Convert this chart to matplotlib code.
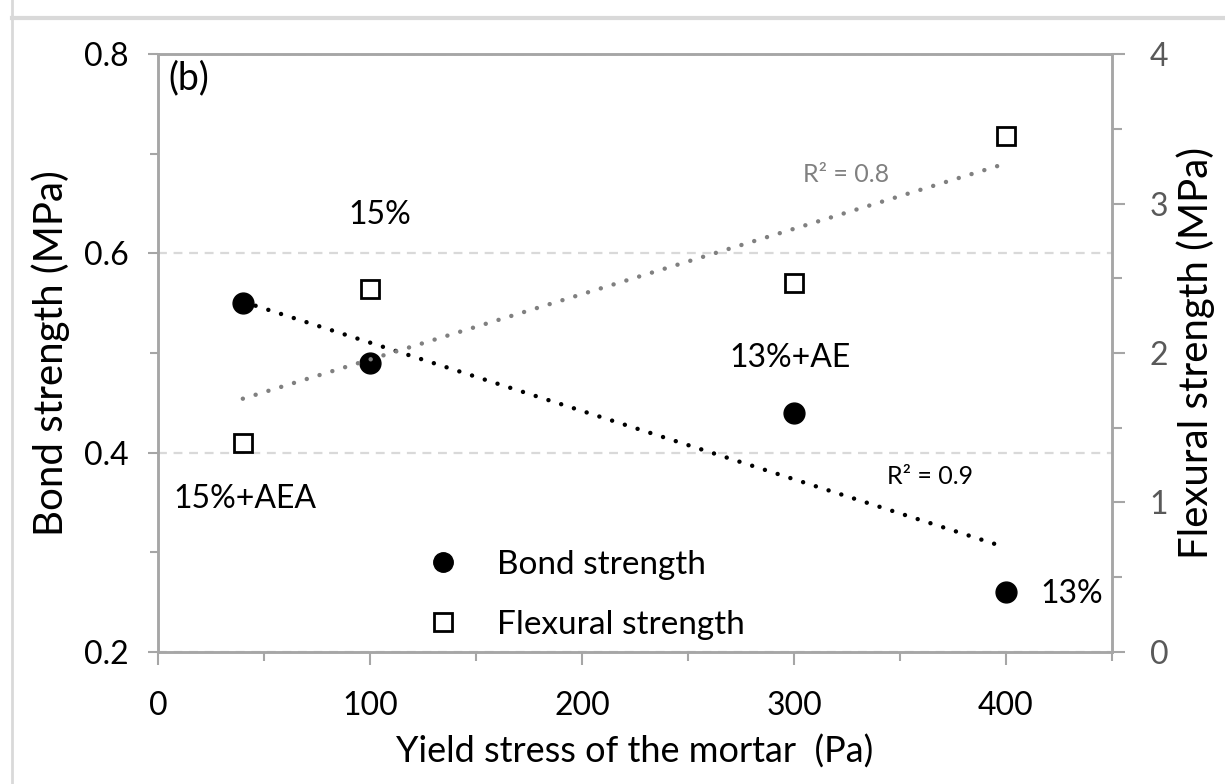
import numpy as np
import matplotlib
matplotlib.use("Agg")
import matplotlib.pyplot as plt
from matplotlib.lines import Line2D

plt.rcParams['font.family'] = ['Lato', 'DejaVu Sans']

# data
yield_stress = [40, 100, 300, 400]          # Pa
bond_strength = [0.55, 0.49, 0.44, 0.26]    # MPa
flexural_strength = [1.40, 2.43, 2.47, 3.45]  # MPa
mix_labels = ["15%+AEA", "15%", "13%+AE", "13%"]

spine_col = "#a6a6a6"
grid_col = "#d9d9d9"

fig = plt.figure(figsize=(12.25, 7.84), dpi=100)
ax = fig.add_axes([0.129, 0.1684, 0.7788, 0.7627])
ax2 = ax.twinx()

# frame lines of the surrounding panel
fig.add_artist(Line2D([12 / 1225, 12 / 1225], [0, 1], color="#d9d9d9", lw=2))
fig.add_artist(Line2D([12 / 1225, 1], [1 - 18 / 784, 1 - 18 / 784], color="#d9d9d9", lw=3))

# linear trendlines
x = np.array(yield_stress, dtype=float)
xs = np.array([x.min(), x.max()])
dots = (0, (0.01, 3.0))

def fit(y):
    p = np.polyfit(x, y, 1)
    yy = np.polyval(p, x)
    r2 = 1 - np.sum((np.array(y) - yy) ** 2) / np.sum((np.array(y) - np.mean(y)) ** 2)
    return p, r2

pb, r2b = fit(bond_strength)
pf, r2f = fit(flexural_strength)

ax.plot(xs, np.polyval(pb, xs), color="black", lw=3.2, linestyle=dots,
        dash_capstyle="round", zorder=2)
ax.plot(x, bond_strength, "o", color="black", ms=15, zorder=3)

ax2.plot(x, flexural_strength, "s", mfc="white", mec="black", mew=2, ms=13, zorder=3)
ax2.plot(xs, np.polyval(pf, xs), color="#808080", lw=3.2, linestyle=dots,
         dash_capstyle="round", zorder=4)

# axes limits and ticks
ax.set_xlim(0, 450)
ax.set_ylim(0.2, 0.8)
ax2.set_ylim(0, 4)
ax.set_xticks([0, 100, 200, 300, 400])
ax.set_xticks([50, 150, 250, 350, 450], minor=True)
ax.set_yticks([0.2, 0.4, 0.6, 0.8])
ax.set_yticks([0.3, 0.5, 0.7], minor=True)
ax2.set_yticks([0, 1, 2, 3, 4])
ax2.set_yticks([0.5, 1.5, 2.5, 3.5], minor=True)

for a in (ax, ax2):
    for s in a.spines.values():
        s.set_color(spine_col)
        s.set_linewidth(1.8)

ax.yaxis.grid(True, which="major", color=grid_col, linestyle=(0, (4, 3)), lw=1.6)
ax.set_axisbelow(True)

ax.tick_params(axis="x", which="major", direction="out", length=9, width=1.5,
               color=spine_col, labelsize=23, pad=19)
ax.tick_params(axis="x", which="minor", direction="out", length=6.5, width=1.5,
               color=spine_col)
ax.tick_params(axis="y", which="major", direction="out", length=7, width=1.5,
               color=spine_col, labelsize=23, pad=14)
ax.tick_params(axis="y", which="minor", direction="out", length=6, width=1.5,
               color=spine_col)
ax2.tick_params(axis="y", which="major", direction="out", length=9, width=1.5,
                color=spine_col, labelsize=23, pad=18, labelcolor="#595959")
ax2.tick_params(axis="y", which="minor", direction="out", length=7, width=1.5,
                color=spine_col)
ax.yaxis.set_major_formatter(matplotlib.ticker.FormatStrFormatter("%.1f"))

ax.set_xlabel("Yield stress of the mortar  (Pa)", fontsize=26, labelpad=10)
ax.set_ylabel("Bond strength (MPa)", fontsize=29, labelpad=10)
ax2.set_ylabel("Flexural strength (MPa)", fontsize=29, labelpad=6)

# annotations
ax.text(5, 0.776, "(b)", fontsize=27, ha="left", va="center")
ax.text(104.5, 0.638, mix_labels[1], fontsize=23, ha="center", va="center")
ax.text(41, 0.353, mix_labels[0], fontsize=23, ha="center", va="center")
ax.text(298, 0.495, mix_labels[2], fontsize=23, ha="center", va="center")
ax.text(416, 0.258, mix_labels[3], fontsize=23, ha="left", va="center")
ax.text(364, 0.376, f"R² = {r2b:.1f}", fontsize=18, ha="center", va="center")
ax.text(324.5, 0.679, f"R² = {r2f:.1f}", fontsize=18, ha="center", va="center",
        color="#808080")

# legend
handles = [
    Line2D([], [], marker="o", linestyle="none", color="black", ms=14),
    Line2D([], [], marker="s", linestyle="none", mfc="white", mec="black", mew=2, ms=13),
]
ax2.legend(handles, ["Bond strength", "Flexural strength"], loc="center left",
           bbox_to_anchor=(0.281, 0.096), frameon=False, fontsize=24,
           handlelength=1.0, handletextpad=1.14, labelspacing=0.9,
           borderpad=0, borderaxespad=0)

fig.savefig("out.png", dpi=100)
